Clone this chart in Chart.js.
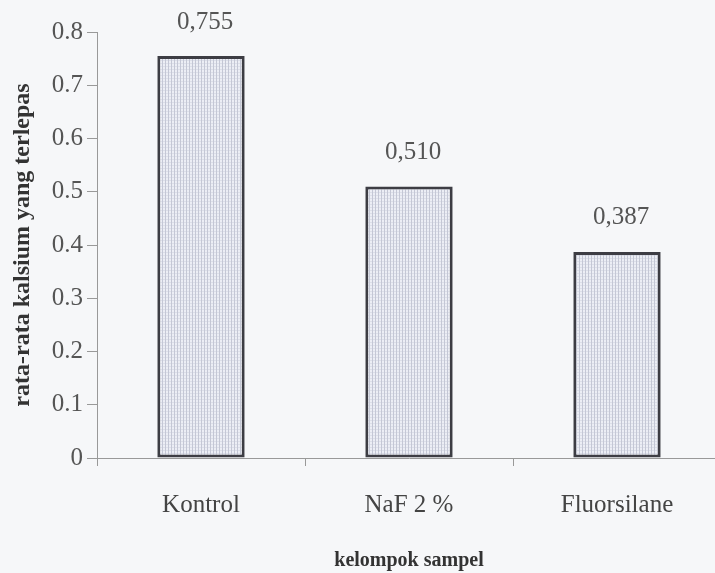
<!DOCTYPE html>
<html>
<head>
<meta charset="utf-8">
<script src="https://cdn.jsdelivr.net/npm/chart.js@4"></script>
<style>
  html, body { margin: 0; padding: 0; background: #f6f7f9; overflow: hidden; }
  #wrap { width: 730px; height: 573px; }
</style>
</head>
<body>
<div id="wrap"><canvas id="c" width="730" height="573"></canvas></div>
<script>
const categories = ['Kontrol', 'NaF 2 %', 'Fluorsilane'];
const values = [0.755, 0.510, 0.387];
const valueLabels = ['0,755', '0,510', '0,387'];
const yTickLabels = ['0', '0.1', '0.2', '0.3', '0.4', '0.5', '0.6', '0.7', '0.8'];
const yTitle = 'rata-rata kalsium yang terlepas';
const xTitle = 'kelompok sampel';

function makePattern() {
  const p = document.createElement('canvas');
  p.width = 3; p.height = 3;
  const g = p.getContext('2d');
  g.fillStyle = '#eceef5';
  g.fillRect(0, 0, 3, 3);
  g.fillStyle = '#c4c7d5';
  g.fillRect(0, 0, 1, 3);
  g.fillStyle = '#dcdfe9';
  g.fillRect(1, 0, 2, 1);
  return document.getElementById('c').getContext('2d').createPattern(p, 'repeat');
}

const serif = "'Liberation Serif', 'Times New Roman', serif";

const valueLabelPlugin = {
  id: 'valueLabels',
  afterDatasetsDraw(chart) {
    const ctx = chart.ctx;
    const meta = chart.getDatasetMeta(0);
    ctx.save();
    ctx.font = '25px ' + serif;
    ctx.fillStyle = '#555';
    ctx.textAlign = 'center';
    ctx.textBaseline = 'middle';
    meta.data.forEach((bar, i) => {
      ctx.fillText(valueLabels[i], bar.x + 4, bar.y - 34);
    });
    ctx.restore();
  }
};

const bgPlugin = {
  id: 'bg',
  beforeDraw(chart) {
    const ctx = chart.ctx;
    ctx.save();
    ctx.fillStyle = '#f6f7f9';
    ctx.fillRect(0, 0, chart.width, chart.height);
    ctx.restore();
  }
};

new Chart(document.getElementById('c'), {
  type: 'bar',
  data: {
    labels: categories,
    datasets: [{
      data: values,
      backgroundColor: makePattern(),
      borderColor: '#3d3d44',
      borderWidth: 3,
      borderSkipped: false,
      barPercentage: 0.42,
      categoryPercentage: 1.0
    }]
  },
  options: {
    responsive: false,
    animation: false,
    layout: { padding: { top: 32, left: 0, right: 9, bottom: 0 } },
    plugins: {
      legend: { display: false },
      tooltip: { enabled: false }
    },
    scales: {
      x: {
        grid: { drawOnChartArea: false, drawTicks: true, tickLength: 8, color: '#999' },
        border: { display: true, color: '#999', width: 1 },
        ticks: {
          color: '#444',
          font: { family: serif, size: 25 },
          padding: 24
        },
        title: {
          display: true,
          text: xTitle,
          color: '#333',
          font: { family: serif, size: 20, weight: 'bold' },
          padding: { top: 10, bottom: 0 }
        },
        afterFit(scale) { scale.height = 115; }
      },
      y: {
        min: 0,
        max: 0.8,
        grid: { drawOnChartArea: false, drawTicks: true, tickLength: 10, color: '#999' },
        border: { display: true, color: '#999', width: 1 },
        ticks: {
          stepSize: 0.1,
          color: '#555',
          font: { family: serif, size: 25 },
          padding: 4,
          callback: (v, i) => yTickLabels[i]
        },
        title: {
          display: true,
          text: yTitle,
          color: '#333',
          font: { family: serif, size: 24, weight: 'bold' },
          padding: { top: 8, bottom: 0 }
        },
        afterFit(scale) { scale.width = 97; }
      }
    }
  },
  plugins: [bgPlugin, valueLabelPlugin]
});
</script>
</body>
</html>
